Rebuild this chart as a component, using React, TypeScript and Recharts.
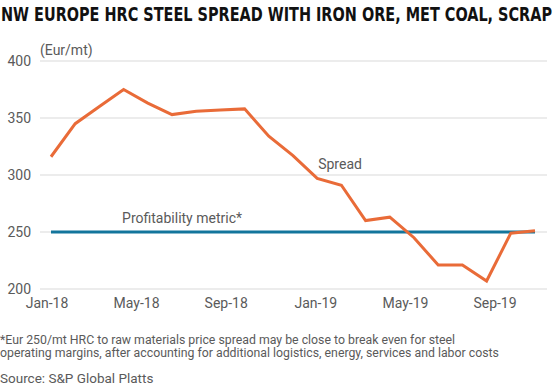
import { LineChart, Line, XAxis, YAxis, CartesianGrid, ReferenceDot } from "recharts";

const months = [
  "Jan-18", "Feb-18", "Mar-18", "Apr-18", "May-18", "Jun-18", "Jul-18",
  "Aug-18", "Sep-18", "Oct-18", "Nov-18", "Dec-18", "Jan-19", "Feb-19",
  "Mar-19", "Apr-19", "May-19", "Jun-19", "Jul-19", "Aug-19", "Sep-19",
];
const spread = [316, 345, 360, 375, 363, 353, 356, 357, 358, 334, 317, 297, 291, 260, 263, 245, 221, 221, 207, 249, 251];
const metric = [250, 250, 250, 250, 250, 250, 250, 250, 250, 250, 250, 250, 250, 250, 250, 250, 250, 250, 250, 250, 250];
const yTicks = [200, 250, 300, 350, 400];

const TITLE = "NW EUROPE HRC STEEL SPREAD WITH IRON ORE, MET COAL, SCRAP";
const FONT = "Roboto, 'Noto Sans', sans-serif";
const ORANGE = "#e96b38";
const BLUE = "#13759c";
const GREY = "#5a5a5a";

const data = months.map((m, i) => ({ month: m, spread: spread[i], metric: metric[i] }));

export default function App() {
  return (
    <div
      style={{
        position: "absolute",
        left: 0,
        top: 0,
        width: 560,
        height: 389,
        background: "#fff",
        fontFamily: FONT,
        color: GREY,
      }}
    >
      <svg width={560} height={36} style={{ position: "absolute", left: 0, top: 0 }}>
        <text
          x={1}
          y={21}
          fontFamily="'Liberation Sans Narrow', 'DejaVu Sans Condensed', sans-serif"
          fontWeight="bold"
          fontSize={20}
          fill="#111"
          textLength={551}
          lengthAdjust="spacingAndGlyphs"
        >
          {TITLE}
        </text>
      </svg>
      <div style={{ position: "absolute", left: 40, top: 41, fontSize: 14, lineHeight: "18px" }}>(Eur/mt)</div>
      <div style={{ position: "absolute", left: 0, top: 0 }}>
        <LineChart
          width={560}
          height={330}
          data={data}
          margin={{ top: 61, right: 13, bottom: 11, left: 0 }}
        >
          <CartesianGrid vertical={false} stroke="#d9d9d9" />
          <XAxis dataKey="month" hide height={0} padding={{ left: 11, right: 12 }} />
          {/* the source spaces its month labels a bit tighter than the points */}
          <XAxis
            xAxisId="labels"
            dataKey="month"
            interval={3}
            padding={{ left: 7, right: 52 }}
            axisLine={false}
            tickLine={false}
            tickSize={0}
            tickMargin={9}
            height={30}
            tick={{ fontSize: 14, fill: GREY, fontFamily: FONT }}
          />
          <YAxis
            domain={[200, 400]}
            ticks={yTicks}
            axisLine={false}
            tickLine={false}
            tickSize={0}
            tickMargin={9}
            width={40}
            tick={{ fontSize: 14, fill: GREY, fontFamily: FONT }}
          />
          <Line
            dataKey="metric"
            stroke={BLUE}
            strokeWidth={3}
            dot={false}
            isAnimationActive={false}
          />
          <Line
            dataKey="spread"
            stroke={ORANGE}
            strokeWidth={3}
            dot={false}
            isAnimationActive={false}
          />
          <ReferenceDot
            x="Dec-18"
            y={310}
            r={0}
            fill="none"
            stroke="none"
            label={{ value: "Spread", position: "right", offset: 1, fontSize: 14, fill: GREY, fontFamily: FONT }}
          />
          <ReferenceDot
            x="Jun-18"
            y={262}
            r={0}
            fill="none"
            stroke="none"
            label={{ value: "Profitability metric*", position: "left", offset: -70, fontSize: 14, fill: GREY, fontFamily: FONT }}
          />
        </LineChart>
      </div>
      <div style={{ position: "absolute", left: 0, top: 334, fontSize: 12.3, lineHeight: "13px" }}>
        *Eur 250/mt HRC to raw materials price spread may be close to break even for steel
        <br />
        operating margins, after accounting for additional logistics, energy, services and labor costs
      </div>
      <div style={{ position: "absolute", left: 0, top: 371, fontSize: 13.5, lineHeight: "15px" }}>
        Source: S&amp;P Global Platts
      </div>
    </div>
  );
}
